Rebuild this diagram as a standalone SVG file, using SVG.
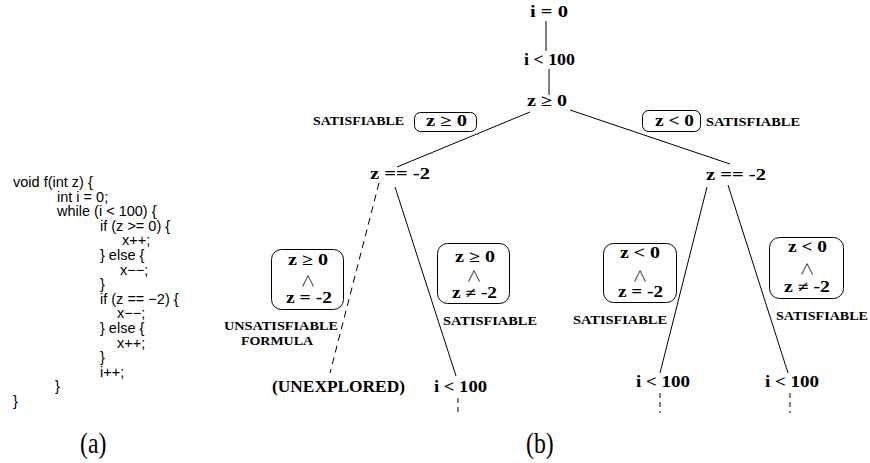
<svg xmlns="http://www.w3.org/2000/svg" width="870" height="463" viewBox="0 0 870 463">
  <style>
    .code { font-family: "Liberation Sans", Arial, sans-serif; font-size: 14.5px; fill: #000; }
    .math { font-family: "Liberation Serif", "Times New Roman", serif; font-size: 16px; font-weight: bold; fill: #000; }
    .and { font-family: "Noto Sans CJK SC", "DejaVu Sans", sans-serif; font-size: 15px; font-weight: 300; fill: #000; }
    .tag { font-family: "Liberation Serif", "Times New Roman", serif; font-size: 12px; font-weight: bold; fill: #000; }
    .cap { font-family: "Liberation Serif", "Times New Roman", serif; font-size: 29px; fill: #000; }
    .box { fill: #fff; stroke: #000; stroke-width: 1; }
    .edge { stroke: #000; stroke-width: 1; fill: none; }
    .dash { stroke: #000; stroke-width: 1; fill: none; stroke-dasharray: 7 5; }
    .tail { stroke: #000; stroke-width: 1; fill: none; stroke-dasharray: 5 4; }
  </style>

  <!-- (a) source listing -->
  <g id="code">
    <text class="code" x="13" y="187">void f(int z) {</text>
    <text class="code" x="57" y="201.6">int i = 0;</text>
    <text class="code" x="57" y="216.2">while (i &lt; 100) {</text>
    <text class="code" x="100" y="230.8">if (z &gt;= 0) {</text>
    <text class="code" x="122" y="245.4">x++;</text>
    <text class="code" x="100" y="260">} else {</text>
    <text class="code" x="120" y="274.6">x−−;</text>
    <text class="code" x="100" y="289.2">}</text>
    <text class="code" x="100" y="303.8">if (z == −2) {</text>
    <text class="code" x="117" y="318.4">x−−;</text>
    <text class="code" x="100" y="333">} else {</text>
    <text class="code" x="117" y="347.6">x++;</text>
    <text class="code" x="100" y="362.2">}</text>
    <text class="code" x="100" y="376.8">i++;</text>
    <text class="code" x="55" y="391.4">}</text>
    <text class="code" x="13" y="406">}</text>
  </g>

  <!-- (b) execution tree: edges -->
  <g id="connectors">
    <line class="edge" x1="546" y1="21" x2="546" y2="51"/>
    <line class="edge" x1="549" y1="69" x2="549" y2="95"/>
    <line class="edge" x1="530" y1="112" x2="397" y2="167"/>
    <line class="edge" x1="570" y1="110" x2="730" y2="164"/>
    <line class="dash" x1="379" y1="183" x2="330" y2="373"/>
    <line class="edge" x1="395" y1="187" x2="456" y2="376"/>
    <line class="edge" x1="707" y1="187" x2="660" y2="373"/>
    <line class="edge" x1="728" y1="185" x2="788" y2="373"/>
    <line class="tail" x1="458" y1="398" x2="458" y2="416"/>
    <line class="tail" x1="660" y1="393" x2="660" y2="413"/>
    <line class="tail" x1="790" y1="393" x2="790" y2="413"/>
  </g>

  <!-- tree nodes -->
  <g id="n-init"><text class="math" x="530" y="17" textLength="38" lengthAdjust="spacingAndGlyphs">i = 0</text></g>
  <g id="n-loop"><text class="math" x="524" y="65" textLength="51" lengthAdjust="spacingAndGlyphs">i &lt; 100</text></g>
  <g id="n-zge0"><text class="math" x="527" y="106" textLength="40" lengthAdjust="spacingAndGlyphs">z ≥ 0</text></g>
  <g id="n-zeq-left"><text class="math" x="370" y="179" textLength="60" lengthAdjust="spacingAndGlyphs">z == -2</text></g>
  <g id="n-zeq-right"><text class="math" x="706" y="180" textLength="60" lengthAdjust="spacingAndGlyphs">z == -2</text></g>
  <g id="n-unexplored"><text class="math" x="272" y="392" textLength="133" lengthAdjust="spacingAndGlyphs">(UNEXPLORED)</text></g>
  <g id="n-loop-a"><text class="math" x="434" y="392" textLength="53" lengthAdjust="spacingAndGlyphs">i &lt; 100</text></g>
  <g id="n-loop-b"><text class="math" x="636" y="387" textLength="54" lengthAdjust="spacingAndGlyphs">i &lt; 100</text></g>
  <g id="n-loop-c"><text class="math" x="765" y="387" textLength="54" lengthAdjust="spacingAndGlyphs">i &lt; 100</text></g>

  <!-- path conditions -->
  <g id="pc-zge0">
    <text class="tag" x="313" y="125" textLength="91" lengthAdjust="spacingAndGlyphs">SATISFIABLE</text>
    <rect class="box" x="414.5" y="112.5" width="62" height="19" rx="6"/>
    <text class="math" x="426" y="126" textLength="41" lengthAdjust="spacingAndGlyphs">z ≥ 0</text>
  </g>
  <g id="pc-zlt0">
    <rect class="box" x="642.5" y="110.5" width="58" height="21" rx="6"/>
    <text class="math" x="655" y="126" textLength="39" lengthAdjust="spacingAndGlyphs">z &lt; 0</text>
    <text class="tag" x="706" y="126" textLength="94" lengthAdjust="spacingAndGlyphs">SATISFIABLE</text>
  </g>
  <g id="pc-ge0-eq">
    <rect class="box" x="271.5" y="249.5" width="72" height="60" rx="10"/>
    <text class="math" x="288" y="265" textLength="40" lengthAdjust="spacingAndGlyphs">z ≥ 0</text>
    <text class="and" x="308" y="286" text-anchor="middle">∧</text>
    <text class="math" x="286" y="303" textLength="46" lengthAdjust="spacingAndGlyphs">z = -2</text>
    <text class="tag" x="224" y="330" textLength="114" lengthAdjust="spacingAndGlyphs">UNSATISFIABLE</text>
    <text class="tag" x="241" y="345" textLength="72" lengthAdjust="spacingAndGlyphs">FORMULA</text>
  </g>
  <g id="pc-ge0-ne">
    <rect class="box" x="437.5" y="243.5" width="72" height="60" rx="10"/>
    <text class="math" x="455" y="262" textLength="40" lengthAdjust="spacingAndGlyphs">z ≥ 0</text>
    <text class="and" x="474" y="281" text-anchor="middle">∧</text>
    <text class="math" x="452" y="298" textLength="45" lengthAdjust="spacingAndGlyphs">z ≠ -2</text>
    <text class="tag" x="443" y="325" textLength="94" lengthAdjust="spacingAndGlyphs">SATISFIABLE</text>
  </g>
  <g id="pc-lt0-eq">
    <rect class="box" x="603.5" y="243.5" width="73" height="59" rx="10"/>
    <text class="math" x="620" y="258" textLength="40" lengthAdjust="spacingAndGlyphs">z &lt; 0</text>
    <text class="and" x="640" y="281" text-anchor="middle">∧</text>
    <text class="math" x="618" y="297" textLength="45" lengthAdjust="spacingAndGlyphs">z = -2</text>
    <text class="tag" x="573" y="324" textLength="94" lengthAdjust="spacingAndGlyphs">SATISFIABLE</text>
  </g>
  <g id="pc-lt0-ne">
    <rect class="box" x="769.5" y="237.5" width="74" height="61" rx="10"/>
    <text class="math" x="788" y="252" textLength="39" lengthAdjust="spacingAndGlyphs">z &lt; 0</text>
    <text class="and" x="807" y="274" text-anchor="middle">∧</text>
    <text class="math" x="784" y="292" textLength="46" lengthAdjust="spacingAndGlyphs">z ≠ -2</text>
    <text class="tag" x="776" y="320" textLength="92" lengthAdjust="spacingAndGlyphs">SATISFIABLE</text>
  </g>

  <!-- sub-figure captions -->
  <g id="captions">
    <text class="cap" transform="translate(80,453) scale(0.82,1)">(a)</text>
    <text class="cap" transform="translate(526,453) scale(0.82,1)">(b)</text>
  </g>
</svg>
